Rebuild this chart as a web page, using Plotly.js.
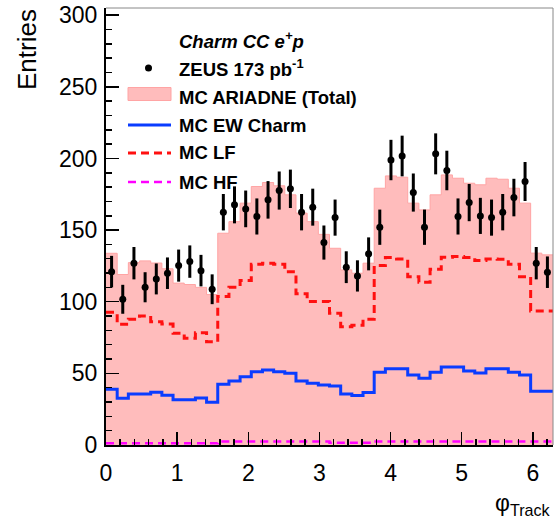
<!DOCTYPE html>
<html>
<head>
<meta charset="utf-8">
<script src="https://cdn.plot.ly/plotly-3.0.1.min.js"></script>
<style>html,body{margin:0;padding:0;background:#fff;}#chart{width:554px;height:525px;}</style>
</head>
<body>
<div id="chart"></div>
<script>
// ---- binning ----
const nBins = 40;
const xMax = 2 * Math.PI;

// ---- data ----
const zeusData = [121, 101.7, 126.9, 110.1, 115.9, 119.9, 125.2, 128, 121.7, 108.7,
  162.5, 167.6, 164.8, 159.5, 171.1, 177.6, 178.8, 162.5, 166, 141.3,
  158.7, 124.1, 118, 133.4, 152, 198.9, 201.7, 176.2, 152, 203.2,
  191.6, 159.5, 169.2, 159.9, 158.7, 162.5, 172.7, 183.9, 126.9, 120.6];
const zeusErr = [11, 10.1, 11.3, 10.5, 10.8, 11, 11.2, 11.3, 11, 10.4,
  12.7, 12.9, 12.8, 12.6, 13.1, 13.3, 13.4, 12.7, 12.9, 11.9,
  12.6, 11.1, 10.9, 11.5, 12.3, 14.1, 14.2, 13.3, 12.3, 14.3,
  13.8, 12.6, 13, 12.6, 12.6, 12.7, 13.1, 13.6, 11.3, 11];
const mcTotal = [133.8, 119, 127.3, 128.5, 127, 123, 113, 112, 110, 105,
  147.8, 155.9, 168.8, 180.4, 183.2, 180.9, 174.6, 161.8, 155.9, 147,
  137.3, 122.2, 119.9, 126.9, 179.2, 187.8, 186.9, 168.8, 164.1, 174.6,
  188.5, 186.2, 182.7, 181.6, 186.2, 185.5, 179.2, 168.8, 133.9, 132.7];
const mcEW = [38.9, 32.6, 35.6, 35.6, 36.8, 34.7, 31.6, 31.6, 32.8, 29.8,
  42.4, 44.7, 47.7, 51.2, 52.4, 51.2, 50.1, 44.7, 43.1, 41.9,
  41.2, 35.6, 34.6, 36.6, 50.8, 53.3, 53.3, 48.9, 46.6, 50.8,
  54.5, 54.5, 51.7, 50.3, 53.3, 53.3, 50.8, 48.9, 37.5, 37.5];
const mcLF = [92.6, 84.3, 87.8, 90.1, 86.1, 84.5, 78, 74.5, 78.4, 72.1,
  103.6, 110.1, 114.8, 126.2, 126.9, 126.2, 121, 105.5, 100.1, 100.1,
  92, 82.6, 83.5, 87.8, 125.2, 130.8, 129.9, 117.5, 113.6, 122.7,
  131, 131.5, 130.8, 128.7, 129.9, 129.7, 126.2, 117.5, 93.6, 93.6];
const mcHF = [1.3, 1.3, 1.3, 1.3, 1.3, 1.3, 1.3, 1.3, 1.3, 1.3,
  2.5, 2.5, 2.5, 2.5, 2.5, 2.5, 2.5, 2.5, 2.5, 2.5,
  1.5, 1.5, 1.5, 1.5, 2.5, 2.5, 2.5, 2.5, 2.5, 2.5,
  2.5, 2.5, 2.5, 2.5, 2.5, 2.5, 2.5, 2.5, 2.5, 2.5];

const xTickVals = [0, 1, 2, 3, 4, 5, 6];
const yTickVals = [0, 50, 100, 150, 200, 250, 300];

const legendHeader = 'Charm CC e<sup>+</sup>p';
const legendLabels = ['ZEUS 173 pb<sup>-1</sup>', 'MC ARIADNE (Total)', 'MC EW Charm', 'MC LF', 'MC HF'];

// ---- derived ----
const binW = xMax / nBins;
const edges = Array.from({length: nBins + 1}, (_, i) => i * binW);
const centers = Array.from({length: nBins}, (_, i) => (i + 0.5) * binW);
const stepY = v => v.concat([v[v.length - 1]]);

const ML = 106, MR = 1, MT = 8, MB = 80, W = 554, H = 525;
const PW = W - ML - MR, PH = H - MT - MB;
const px = x => (x - ML) / PW;
const py = y => 1 - (y - MT) / PH;

const FONT = 'Liberation Sans, Arial, Helvetica, sans-serif';
const pinkFill = '#ffbcbc', pinkLine = '#ffa4a4';
const blue = '#0a3cff', red = '#ff1010', magenta = '#ff00ff';

const traces = [
  {x: edges, y: stepY(mcTotal), type: 'scatter', mode: 'lines', line: {shape: 'hv', color: pinkLine, width: 1},
   fill: 'tozeroy', fillcolor: pinkFill, name: legendLabels[1], showlegend: false, hoverinfo: 'skip'},
  {x: edges, y: stepY(mcEW), type: 'scatter', mode: 'lines', line: {shape: 'hv', color: blue, width: 3},
   name: legendLabels[2], showlegend: false},
  {x: edges, y: stepY(mcLF), type: 'scatter', mode: 'lines', line: {shape: 'hv', color: red, width: 3, dash: '8px,5px'},
   name: legendLabels[3], showlegend: false},
  {x: edges, y: stepY(mcHF), type: 'scatter', mode: 'lines', line: {shape: 'hv', color: magenta, width: 2.5, dash: '8px,5px'},
   name: legendLabels[4], showlegend: false},
  {x: centers, y: zeusData, type: 'scatter', mode: 'markers', marker: {color: 'black', size: 7},
   error_y: {type: 'data', array: zeusErr, visible: true, color: 'black', thickness: 3, width: 0},
   name: legendLabels[0], showlegend: false}
];

const legX0 = 128, legX1 = 171, legTextX = 177;
const legY = {header: 40, zeus: 68, tot: 94, ew: 125, lf: 153, hf: 182};
const legTextY = {zeus: 68, tot: 97, ew: 125, lf: 153, hf: 182};

const shapes = [
  // frame top/right
  {type: 'line', xref: 'paper', yref: 'paper', x0: 0, x1: 1, y0: 1, y1: 1, line: {color: '#888', width: 1}},
  {type: 'line', xref: 'paper', yref: 'paper', x0: 1, x1: 1, y0: 0, y1: 1, line: {color: '#888', width: 1}},
  // legend symbols
  {type: 'circle', xref: 'paper', yref: 'paper', xsizemode: 'pixel', ysizemode: 'pixel',
   xanchor: px(148.5), yanchor: py(legY.zeus), x0: -3.5, x1: 3.5, y0: -3.5, y1: 3.5,
   fillcolor: 'black', line: {color: 'black', width: 0}},
  {type: 'rect', xref: 'paper', yref: 'paper', x0: px(legX0), x1: px(legX1), y0: py(legY.tot - 6.5), y1: py(legY.tot + 6.5),
   fillcolor: pinkFill, line: {color: pinkLine, width: 1}},
  {type: 'line', xref: 'paper', yref: 'paper', x0: px(legX0), x1: px(legX1), y0: py(legY.ew), y1: py(legY.ew),
   line: {color: blue, width: 3}},
  {type: 'line', xref: 'paper', yref: 'paper', x0: px(legX0), x1: px(legX1), y0: py(legY.lf), y1: py(legY.lf),
   line: {color: red, width: 3, dash: '8px,5px'}},
  {type: 'line', xref: 'paper', yref: 'paper', x0: px(legX0), x1: px(legX1), y0: py(legY.hf), y1: py(legY.hf),
   line: {color: magenta, width: 2.5, dash: '8px,5px'}}
];

const legFont = {family: FONT, size: 18.5, color: 'black', weight: 'bold'};
const mkAnn = (text, y, extra) => Object.assign({
  text: text, xref: 'paper', yref: 'paper', x: px(legTextX), y: py(y), xanchor: 'left', yanchor: 'middle',
  showarrow: false, font: legFont
}, extra || {});

const annotations = [
  mkAnn(legendHeader, legY.header, {font: {family: FONT, size: 18.5, color: 'black', weight: 'bold', style: 'italic'}}),
  mkAnn(legendLabels[0], legTextY.zeus),
  mkAnn(legendLabels[1], legTextY.tot),
  mkAnn(legendLabels[2], legTextY.ew),
  mkAnn(legendLabels[3], legTextY.lf),
  mkAnn(legendLabels[4], legTextY.hf),
  {text: 'Entries', xref: 'paper', yref: 'paper', x: px(27), y: py(50), xanchor: 'center', yanchor: 'middle',
   textangle: -90, showarrow: false, font: {family: FONT, size: 26, color: 'black'}},
  {text: 'φ<sub>Track</sub>', xref: 'paper', yref: 'paper', x: px(553), y: py(488), xanchor: 'right', yanchor: 'top',
   showarrow: false, font: {family: FONT, size: 23, color: 'black'}}
];

const axisCommon = {
  showgrid: false, zeroline: false, showline: true, linecolor: 'black', linewidth: 2,
  ticks: 'inside', ticklen: 13, tickwidth: 1.5, tickcolor: 'black',
  tickfont: {family: FONT, size: 23, color: 'black'}, fixedrange: true
};

const layout = {
  width: W, height: H,
  margin: {l: ML, r: MR, t: MT, b: MB, pad: 0},
  paper_bgcolor: 'white', plot_bgcolor: 'white',
  showlegend: false,
  xaxis: Object.assign({}, axisCommon, {
    range: [0, xMax], tickmode: 'array', tickvals: xTickVals, ticktext: xTickVals.map(String),
    ticklabelstandoff: 6,
    minor: {dtick: 0.2, tick0: 0, ticks: 'inside', ticklen: 6, tickwidth: 1.5, tickcolor: 'black', showgrid: false}
  }),
  yaxis: Object.assign({}, axisCommon, {
    range: [0, 305], tickmode: 'array', tickvals: yTickVals, ticktext: yTickVals.map(String),
    ticklabelstandoff: 2,
    minor: {dtick: 10, tick0: 0, ticks: 'inside', ticklen: 6, tickwidth: 1.5, tickcolor: 'black', showgrid: false}
  }),
  shapes: shapes,
  annotations: annotations
};

Plotly.newPlot('chart', traces, layout, {staticPlot: true, displayModeBar: false});
</script>
</body>
</html>
